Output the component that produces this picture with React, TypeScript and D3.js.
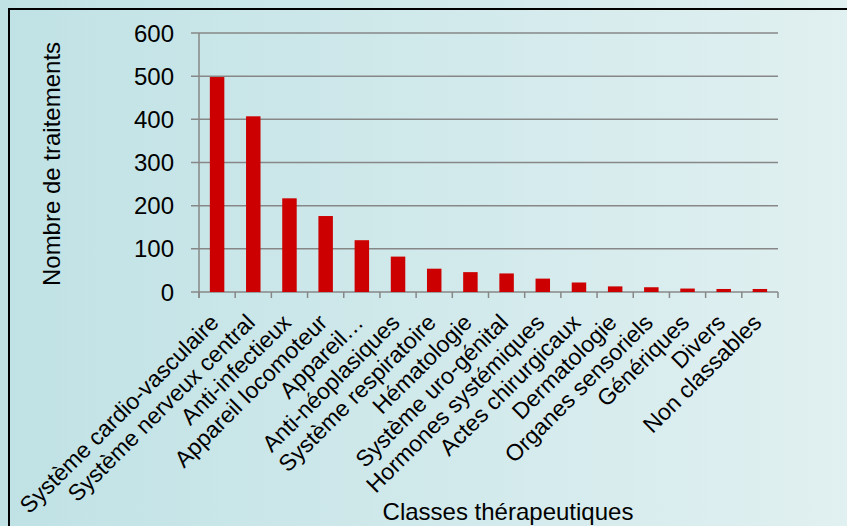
import React, { useRef, useEffect } from "react";
import * as d3 from "d3";

const categories = [
  "Système cardio-vasculaire",
  "Système nerveux central",
  "Anti-infectieux",
  "Appareil locomoteur",
  "Appareil…",
  "Anti-néoplasiques",
  "Système respiratoire",
  "Hématologie",
  "Système uro-génital",
  "Hormones systémiques",
  "Actes chirurgicaux",
  "Dermatologie",
  "Organes sensoriels",
  "Génériques",
  "Divers",
  "Non classables",
];
const values = [498, 407, 217, 176, 120, 82, 54, 46, 43, 31, 22, 13, 11, 8, 7, 7];
const yTicks = [0, 100, 200, 300, 400, 500, 600];

const W = 847;
const H = 526;

export default function App() {
  const svgRef = useRef<SVGSVGElement>(null);

  useEffect(() => {
    document.body.style.margin = "0";
    const svg = d3.select(svgRef.current);
    svg.selectAll("*").remove();

    const margin = { top: 33, right: 69, bottom: 234, left: 199 };
    const font = "'Liberation Sans', Arial, sans-serif";
    const fs = 24;

    // background gradient
    const defs = svg.append("defs");
    const grad = defs
      .append("linearGradient")
      .attr("id", "bg")
      .attr("x1", "0")
      .attr("x2", "1")
      .attr("y1", "0")
      .attr("y2", "0");
    grad.append("stop").attr("offset", "0").attr("stop-color", "#c0e2e5");
    grad.append("stop").attr("offset", "1").attr("stop-color", "#e1f0f1");
    svg.append("rect").attr("width", W).attr("height", H).attr("fill", "url(#bg)");

    // border (top and left visible)
    svg
      .append("path")
      .attr("d", `M9,${H} V9 H${W}`)
      .attr("fill", "none")
      .attr("stroke", "#000")
      .attr("stroke-width", 2);

    const x = d3
      .scaleBand<string>()
      .domain(categories)
      .range([margin.left, W - margin.right])
      .paddingInner(0.6)
      .paddingOuter(0.3);
    const y = d3
      .scaleLinear()
      .domain([0, 600])
      .range([H - margin.bottom, margin.top]);

    const g = svg.append("g");

    // gridlines + y ticks
    g.selectAll(".grid")
      .data(yTicks)
      .join("line")
      .attr("x1", margin.left - 8)
      .attr("x2", W - margin.right)
      .attr("y1", (d) => y(d))
      .attr("y2", (d) => y(d))
      .attr("stroke", "#878787")
      .attr("stroke-width", 1.5);

    g.selectAll(".ytl")
      .data(yTicks)
      .join("text")
      .attr("x", margin.left - 25)
      .attr("y", (d) => y(d))
      .attr("dy", "0.36em")
      .attr("text-anchor", "end")
      .attr("font-family", font)
      .attr("font-size", fs)
      .attr("fill", "#000")
      .text((d) => d);

    // y axis line
    g.append("line")
      .attr("x1", margin.left)
      .attr("x2", margin.left)
      .attr("y1", y(600))
      .attr("y2", y(0) + 6)
      .attr("stroke", "#878787")
      .attr("stroke-width", 1.5);

    // x tick marks at category boundaries
    const step = x.step();
    const x0 = margin.left;
    const bounds = d3.range(categories.length + 1).map((i) => x0 + i * step);
    g.selectAll(".xt")
      .data(bounds)
      .join("line")
      .attr("x1", (d) => d)
      .attr("x2", (d) => d)
      .attr("y1", y(0))
      .attr("y2", y(0) + 6)
      .attr("stroke", "#878787")
      .attr("stroke-width", 1.5);

    // bars
    g.selectAll(".bar")
      .data(values)
      .join("rect")
      .attr("x", (_, i) => x(categories[i])!)
      .attr("width", x.bandwidth())
      .attr("y", (d) => y(d))
      .attr("height", (d) => y(0) - y(d))
      .attr("fill", "#cc0000");

    // category labels
    g.selectAll(".xl")
      .data(categories)
      .join("text")
      .attr(
        "transform",
        (d) => `translate(${x(d)! + x.bandwidth() / 2 + 3},${y(0) + 32}) rotate(-45)`
      )
      .attr("text-anchor", "end")
      .attr("font-family", font)
      .attr("font-size", 23)
      .attr("fill", "#000")
      .text((d) => d);

    // axis titles
    svg
      .append("text")
      .attr("x", 508)
      .attr("y", 520)
      .attr("text-anchor", "middle")
      .attr("font-family", font)
      .attr("font-size", fs)
      .attr("fill", "#000")
      .text("Classes thérapeutiques");

    svg
      .append("text")
      .attr("transform", `translate(60,164) rotate(-90)`)
      .attr("text-anchor", "middle")
      .attr("font-family", font)
      .attr("font-size", fs)
      .attr("fill", "#000")
      .text("Nombre de traitements");
  }, []);

  return <svg ref={svgRef} width={W} height={H} style={{ display: "block" }} />;
}
